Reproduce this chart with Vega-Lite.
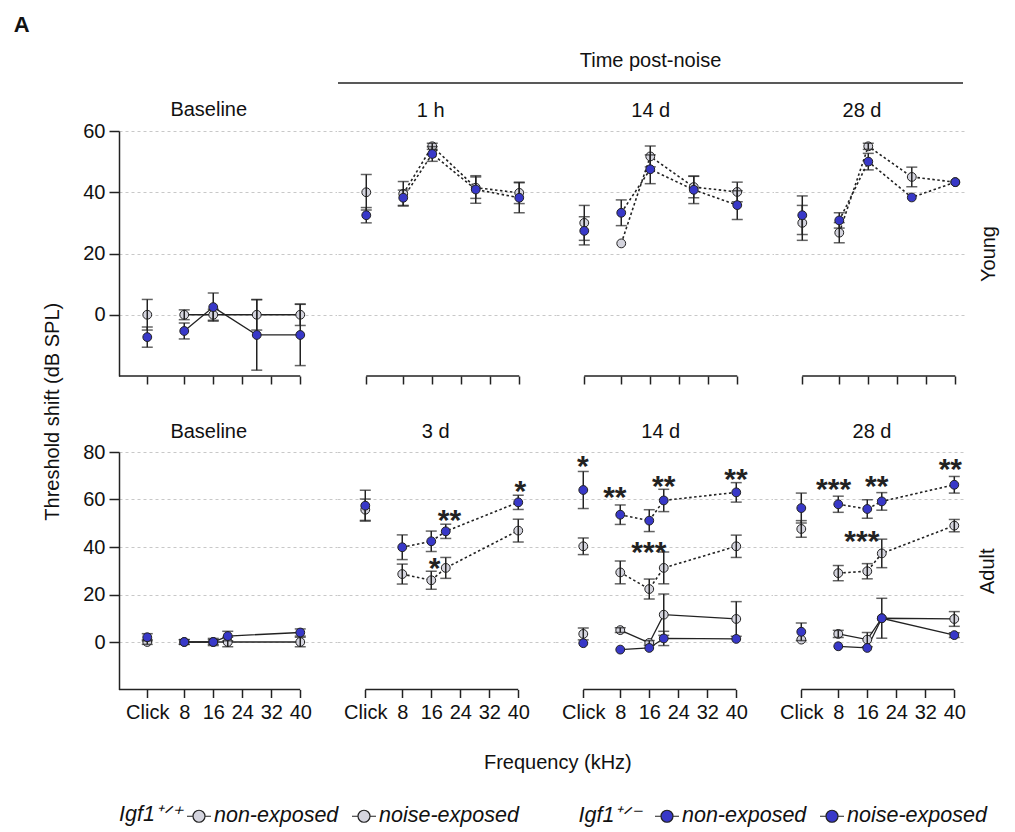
{
"$schema": "https://vega.github.io/schema/vega-lite/v6.json",
"padding": {"left": 13, "top": 14, "right": 5, "bottom": 5},
"title": {"text": "A", "anchor": "start", "fontSize": 22, "fontWeight": "bold", "dx": -29, "offset": 14},
"datasets": {
"d": [
{"age":"Young","time":"Baseline","freq":"Click","group":"wt-non","value":0,"err":5},
{"age":"Young","time":"Baseline","freq":"Click","group":"het-non","value":-7.3,"err":3.3},
{"age":"Young","time":"Baseline","freq":8,"group":"wt-non","value":0,"err":1.6},
{"age":"Young","time":"Baseline","freq":8,"group":"het-non","value":-5.3,"err":2.6},
{"age":"Young","time":"Baseline","freq":16,"group":"wt-non","value":0,"err":1.8},
{"age":"Young","time":"Baseline","freq":16,"group":"het-non","value":2.5,"err":4.6},
{"age":"Young","time":"Baseline","freq":28,"group":"wt-non","value":0,"err":5},
{"age":"Young","time":"Baseline","freq":28,"group":"het-non","value":-6.6,"err":11.5},
{"age":"Young","time":"Baseline","freq":40,"group":"wt-non","value":0,"err":3.5},
{"age":"Young","time":"Baseline","freq":40,"group":"het-non","value":-6.6,"err":10},
{"age":"Young","time":"1 h","freq":"Click","group":"wt-noise","value":40,"err":5.8},
{"age":"Young","time":"1 h","freq":"Click","group":"het-noise","value":32.5,"err":2.5},
{"age":"Young","time":"1 h","freq":8,"group":"wt-noise","value":39.5,"err":4},
{"age":"Young","time":"1 h","freq":8,"group":"het-noise","value":38.2,"err":2.5},
{"age":"Young","time":"1 h","freq":16,"group":"wt-noise","value":55,"err":1},
{"age":"Young","time":"1 h","freq":16,"group":"het-noise","value":52.5,"err":2.4},
{"age":"Young","time":"1 h","freq":28,"group":"wt-noise","value":41.5,"err":3.5},
{"age":"Young","time":"1 h","freq":28,"group":"het-noise","value":40.9,"err":4.5},
{"age":"Young","time":"1 h","freq":40,"group":"wt-noise","value":39.8,"err":3.5},
{"age":"Young","time":"1 h","freq":40,"group":"het-noise","value":38.2,"err":4.9},
{"age":"Young","time":"14 d","freq":"Click","group":"wt-noise","value":30,"err":5.7},
{"age":"Young","time":"14 d","freq":"Click","group":"het-noise","value":27.4,"err":4.6},
{"age":"Young","time":"14 d","freq":8,"group":"wt-noise","value":23.3,"err":0},
{"age":"Young","time":"14 d","freq":8,"group":"het-noise","value":33.3,"err":4.2},
{"age":"Young","time":"14 d","freq":16,"group":"wt-noise","value":51.7,"err":3.4},
{"age":"Young","time":"14 d","freq":16,"group":"het-noise","value":47.5,"err":4.7},
{"age":"Young","time":"14 d","freq":28,"group":"wt-noise","value":41.7,"err":3.5},
{"age":"Young","time":"14 d","freq":28,"group":"het-noise","value":40.8,"err":4.5},
{"age":"Young","time":"14 d","freq":40,"group":"wt-noise","value":40.1,"err":3.2},
{"age":"Young","time":"14 d","freq":40,"group":"het-noise","value":35.8,"err":4.7},
{"age":"Young","time":"28 d","freq":"Click","group":"wt-noise","value":30,"err":5.7},
{"age":"Young","time":"28 d","freq":"Click","group":"het-noise","value":32.5,"err":6.3},
{"age":"Young","time":"28 d","freq":8,"group":"wt-noise","value":26.8,"err":3.3},
{"age":"Young","time":"28 d","freq":8,"group":"het-noise","value":30.8,"err":2.5},
{"age":"Young","time":"28 d","freq":16,"group":"wt-noise","value":55,"err":1},
{"age":"Young","time":"28 d","freq":16,"group":"het-noise","value":50,"err":2.7},
{"age":"Young","time":"28 d","freq":28,"group":"wt-noise","value":45,"err":3.2},
{"age":"Young","time":"28 d","freq":28,"group":"het-noise","value":38.3,"err":0},
{"age":"Young","time":"28 d","freq":40,"group":"wt-noise","value":43.3,"err":0},
{"age":"Young","time":"28 d","freq":40,"group":"het-noise","value":43.3,"err":0},
{"age":"Adult","time":"Baseline","freq":"Click","group":"wt-non","value":0,"err":1},
{"age":"Adult","time":"Baseline","freq":"Click","group":"het-non","value":2,"err":1.5},
{"age":"Adult","time":"Baseline","freq":8,"group":"wt-non","value":0,"err":1},
{"age":"Adult","time":"Baseline","freq":8,"group":"het-non","value":0,"err":1},
{"age":"Adult","time":"Baseline","freq":16,"group":"wt-non","value":0,"err":1},
{"age":"Adult","time":"Baseline","freq":16,"group":"het-non","value":0,"err":1.5},
{"age":"Adult","time":"Baseline","freq":20,"group":"wt-non","value":0,"err":2},
{"age":"Adult","time":"Baseline","freq":20,"group":"het-non","value":2.5,"err":2},
{"age":"Adult","time":"Baseline","freq":40,"group":"wt-non","value":0,"err":2},
{"age":"Adult","time":"Baseline","freq":40,"group":"het-non","value":4,"err":1.5},
{"age":"Adult","time":"3 d","freq":"Click","group":"wt-noise","value":55.7,"err":4.5},
{"age":"Adult","time":"3 d","freq":"Click","group":"het-noise","value":57.4,"err":6.5},
{"age":"Adult","time":"3 d","freq":8,"group":"wt-noise","value":28.6,"err":4.2},
{"age":"Adult","time":"3 d","freq":8,"group":"het-noise","value":39.9,"err":5.2},
{"age":"Adult","time":"3 d","freq":16,"group":"wt-noise","value":26,"err":3.8},
{"age":"Adult","time":"3 d","freq":16,"group":"het-noise","value":42.4,"err":4.3},
{"age":"Adult","time":"3 d","freq":20,"group":"wt-noise","value":31.2,"err":4.4},
{"age":"Adult","time":"3 d","freq":20,"group":"het-noise","value":46.6,"err":3},
{"age":"Adult","time":"3 d","freq":40,"group":"wt-noise","value":46.9,"err":4.8},
{"age":"Adult","time":"3 d","freq":40,"group":"het-noise","value":58.8,"err":3},
{"age":"Adult","time":"14 d","freq":"Click","group":"wt-noise","value":40.3,"err":3.5},
{"age":"Adult","time":"14 d","freq":"Click","group":"het-noise","value":64,"err":7.8},
{"age":"Adult","time":"14 d","freq":8,"group":"wt-noise","value":29.3,"err":4.8},
{"age":"Adult","time":"14 d","freq":8,"group":"het-noise","value":53.6,"err":4.1},
{"age":"Adult","time":"14 d","freq":16,"group":"wt-noise","value":22.3,"err":4.2},
{"age":"Adult","time":"14 d","freq":16,"group":"het-noise","value":51.1,"err":4.6},
{"age":"Adult","time":"14 d","freq":20,"group":"wt-noise","value":31.2,"err":6.7},
{"age":"Adult","time":"14 d","freq":20,"group":"het-noise","value":59.6,"err":4.7},
{"age":"Adult","time":"14 d","freq":40,"group":"wt-noise","value":40.3,"err":4.7},
{"age":"Adult","time":"14 d","freq":40,"group":"het-noise","value":63,"err":4.1},
{"age":"Adult","time":"14 d","freq":"Click","group":"wt-non","value":3.4,"err":2.5},
{"age":"Adult","time":"14 d","freq":"Click","group":"het-non","value":-0.5,"err":0},
{"age":"Adult","time":"14 d","freq":8,"group":"wt-non","value":5,"err":1},
{"age":"Adult","time":"14 d","freq":8,"group":"het-non","value":-3.2,"err":0},
{"age":"Adult","time":"14 d","freq":16,"group":"wt-non","value":-0.4,"err":1},
{"age":"Adult","time":"14 d","freq":16,"group":"het-non","value":-2.5,"err":0},
{"age":"Adult","time":"14 d","freq":20,"group":"wt-non","value":11.5,"err":8.7},
{"age":"Adult","time":"14 d","freq":20,"group":"het-non","value":1.5,"err":3},
{"age":"Adult","time":"14 d","freq":40,"group":"wt-non","value":9.7,"err":7.3},
{"age":"Adult","time":"14 d","freq":40,"group":"het-non","value":1.3,"err":0},
{"age":"Adult","time":"28 d","freq":"Click","group":"wt-noise","value":47.6,"err":3.5},
{"age":"Adult","time":"28 d","freq":"Click","group":"het-noise","value":56.4,"err":6.3},
{"age":"Adult","time":"28 d","freq":8,"group":"wt-noise","value":29,"err":3.2},
{"age":"Adult","time":"28 d","freq":8,"group":"het-noise","value":58,"err":3.4},
{"age":"Adult","time":"28 d","freq":16,"group":"wt-noise","value":29.8,"err":3.2},
{"age":"Adult","time":"28 d","freq":16,"group":"het-noise","value":56,"err":3.9},
{"age":"Adult","time":"28 d","freq":20,"group":"wt-noise","value":37.3,"err":6},
{"age":"Adult","time":"28 d","freq":20,"group":"het-noise","value":59.2,"err":3.7},
{"age":"Adult","time":"28 d","freq":40,"group":"wt-noise","value":49,"err":2.6},
{"age":"Adult","time":"28 d","freq":40,"group":"het-noise","value":66.2,"err":3.5},
{"age":"Adult","time":"28 d","freq":"Click","group":"wt-non","value":1,"err":0},
{"age":"Adult","time":"28 d","freq":"Click","group":"het-non","value":4.3,"err":3.7},
{"age":"Adult","time":"28 d","freq":8,"group":"wt-non","value":3.4,"err":1.5},
{"age":"Adult","time":"28 d","freq":8,"group":"het-non","value":-1.8,"err":0},
{"age":"Adult","time":"28 d","freq":16,"group":"wt-non","value":1,"err":3},
{"age":"Adult","time":"28 d","freq":16,"group":"het-non","value":-2.5,"err":0},
{"age":"Adult","time":"28 d","freq":20,"group":"wt-non","value":10,"err":0},
{"age":"Adult","time":"28 d","freq":20,"group":"het-non","value":10,"err":8.4},
{"age":"Adult","time":"28 d","freq":40,"group":"wt-non","value":9.7,"err":3.1},
{"age":"Adult","time":"28 d","freq":40,"group":"het-non","value":2.9,"err":1}
],
"stars": [
{"age":"Adult","time":"3 d","kHz":16.9,"value":33.3,"label":"*"},
{"age":"Adult","time":"3 d","kHz":21,"value":53.6,"label":"**"},
{"age":"Adult","time":"3 d","kHz":40.6,"value":65.8,"label":"*"},
{"age":"Adult","time":"14 d","kHz":-2.3,"value":76.3,"label":"*"},
{"age":"Adult","time":"14 d","kHz":6.5,"value":63,"label":"**"},
{"age":"Adult","time":"14 d","kHz":15.9,"value":40,"label":"***"},
{"age":"Adult","time":"14 d","kHz":20,"value":68,"label":"**"},
{"age":"Adult","time":"14 d","kHz":39.9,"value":70.7,"label":"**"},
{"age":"Adult","time":"28 d","kHz":6.7,"value":66.5,"label":"***"},
{"age":"Adult","time":"28 d","kHz":18.6,"value":68,"label":"**"},
{"age":"Adult","time":"28 d","kHz":14.5,"value":44.8,"label":"***"},
{"age":"Adult","time":"28 d","kHz":38.9,"value":75,"label":"**"}
]
},
"vconcat": [
{
"title": {"text": "Threshold shift (dB SPL)", "orient": "left", "anchor": "middle", "offset": 20},
"spacing": 36,
"vconcat": [
{
"spacing": 0,
"hconcat": [
{
"spacing": 17,
"vconcat": [
{"width": 217.5, "height": 32, "data": {"values": [{}]}, "mark": {"type": "rule", "opacity": 0},
 "encoding": {"x": {"datum": 0, "scale": {"domain": [0, 1]}, "axis": null}, "y": {"datum": 0, "scale": {"domain": [0, 1]}, "axis": null}, "y2": {"datum": 1}}},
{
"width": 217.5, "height": 245,
"title": {"text": "Baseline", "dx": -19, "dy": 9},
"data": {"name": "d"},
"transform": [{"filter": "datum.age === 'Young' && datum.time === 'Baseline'"}, {"calculate": "datum.freq === 'Click' ? -2.2 : datum.freq", "as": "kHz"}],
"encoding": {
 "x": {"field": "kHz", "type": "quantitative", "scale": {"domain": [-10, 50], "nice": false, "zero": false}, "axis": {"values": [-2.2, 8, 16, 24, 32, 40], "domain": false, "grid": false, "labels": false, "tickSize": 8, "title": null}},
 "y": {"field": "value", "type": "quantitative", "scale": {"domain": [-20, 60], "nice": false, "zero": false}, "axis": {"values": [0, 20, 40, 60], "grid": true, "tickSize": 10, "labelPadding": 4, "title": null}}
},
"layer": [
 {"transform": [{"filter": "datum.freq === 40 && datum.group === 'wt-non'"}], "mark": {"type": "rule", "color": "#222", "strokeWidth": 1.5}, "encoding": {"x": {"datum": -10}, "x2": {"datum": 40}, "y": {"datum": -20}}},
 {"transform": [{"filter": "datum.freq !== 'Click' && indexof(datum.group, 'non') >= 0"}], "mark": {"type": "line", "color": "#222", "strokeWidth": 1.3}, "encoding": {"detail": {"field": "group"}}},
 {"transform": [{"filter": "datum.freq !== 'Click' && indexof(datum.group, 'noise') >= 0"}], "mark": {"type": "line", "color": "#222", "strokeWidth": 1.6, "strokeDash": [2.5, 2.5]}, "encoding": {"detail": {"field": "group"}}},
 {"transform": [{"filter": "indexof(datum.group, 'wt') === 0"}], "mark": {"type": "point", "shape": "circle", "filled": true, "size": 78, "opacity": 1, "stroke": "#222", "strokeWidth": 1},
  "encoding": {"fill": {"field": "group", "type": "nominal", "scale": {"domain": ["wt-non", "wt-noise", "het-non", "het-noise"], "range": ["#d4d4de", "#d4d4de", "#3838c8", "#3838c8"]},
   "legend": {"title": "Igf1⁺ᐟ⁺", "orient": "bottom", "direction": "horizontal", "titleOrient": "left", "titleFontSize": 21.5, "titleFontStyle": "italic", "titleFontWeight": "normal", "titleFont": "Liberation Sans", "titleColor": "#111", "titlePadding": 4,
    "labelFontSize": 21.5, "labelFontStyle": "italic", "labelFont": "Liberation Sans", "labelColor": "#111", "labelLimit": 600, "labelOffset": 2, "columnPadding": 10, "offset": 30,
    "labelExpr": "datum.value === 'wt-noise' ? 'noise-exposed\u00a0\u00a0\u00a0\u00a0\u00a0\u00a0\u00a0\u00a0\u00a0\u00a0Igf1⁺ᐟ⁻' : (indexof(datum.value, 'noise') >= 0 ? 'noise-exposed' : 'non-exposed')",
    "symbolType": "M-1,0L-0.5,0M0.5,0L1,0M-0.5,0A0.5,0.5,0,1,1,0.5,0A0.5,0.5,0,1,1,-0.5,0Z", "symbolSize": 576, "symbolStrokeColor": "#222", "symbolStrokeWidth": 1.2,
    "encode": {"symbols": {"update": {"shape": {"signal": "indexof(datum.value, 'noise') >= 0 ? 'M-1,0L-0.86,0M-0.74,0L-0.6,0M0.6,0L0.74,0M0.86,0L1,0M-0.5,0A0.5,0.5,0,1,1,0.5,0A0.5,0.5,0,1,1,-0.5,0Z' : 'M-1,0L-0.5,0M0.5,0L1,0M-0.5,0A0.5,0.5,0,1,1,0.5,0A0.5,0.5,0,1,1,-0.5,0Z'"}, "stroke": {"value": "#222"}, "strokeWidth": {"value": 1.2}, "opacity": {"value": 1}}}}}}}},
 {"transform": [{"filter": "datum.err > 0"}], "mark": {"type": "errorbar", "color": "#222", "thickness": 1.5, "ticks": {"size": 11}}, "encoding": {"yError": {"field": "err"}}},
 {"transform": [{"filter": "indexof(datum.group, 'het') === 0"}], "mark": {"type": "point", "shape": "circle", "filled": true, "size": 78, "opacity": 1, "stroke": "#222", "strokeWidth": 1}, "encoding": {"fill": {"field": "group", "type": "nominal", "scale": {"domain": ["wt-non", "wt-noise", "het-non", "het-noise"], "range": ["#d4d4de", "#d4d4de", "#3838c8", "#3838c8"]}}}}
]
}
]
},
{
"spacing": 17,
"vconcat": [
{"width": 625, "height": 32, "data": {"values": [{}]},
 "layer": [
  {"mark": {"type": "rule", "color": "#222", "strokeWidth": 1.5}, "encoding": {"x": {"datum": 0, "scale": {"domain": [0, 1]}, "axis": null}, "x2": {"datum": 1}, "y": {"datum": 0, "scale": {"domain": [0, 1]}, "axis": null}}},
  {"mark": {"type": "text", "fontSize": 20, "font": "Liberation Sans", "baseline": "top", "color": "#111"}, "encoding": {"x": {"datum": 0.5}, "y": {"datum": 1}, "text": {"value": "Time post-noise"}}}
 ]},
{
"spacing": 0, "bounds": "flush",
"hconcat": [
{
"width": 217.5, "height": 245,
"title": {"text": "1 h", "dx": -16},
"data": {"name": "d"},
"transform": [{"filter": "datum.age === 'Young' && datum.time === '1 h'"}, {"calculate": "datum.freq === 'Click' ? -2.2 : datum.freq", "as": "kHz"}],
"encoding": {
 "x": {"field": "kHz", "type": "quantitative", "scale": {"domain": [-10, 50], "nice": false, "zero": false}, "axis": {"values": [-2.2, 8, 16, 24, 32, 40], "domain": false, "grid": false, "labels": false, "tickSize": 8, "title": null}},
 "y": {"field": "value", "type": "quantitative", "scale": {"domain": [-20, 60], "nice": false, "zero": false}, "axis": {"values": [0, 20, 40, 60], "grid": true, "domain": false, "ticks": false, "labels": false, "title": null}}
},
"layer": [
 {"transform": [{"filter": "datum.freq === 40 && indexof(datum.group, 'wt') === 0"}], "mark": {"type": "rule", "color": "#222", "strokeWidth": 1.5}, "encoding": {"x": {"datum": -2.2}, "x2": {"datum": 40}, "y": {"datum": -20}}},
 {"transform": [{"filter": "datum.freq !== 'Click' && indexof(datum.group, 'non') >= 0"}], "mark": {"type": "line", "color": "#222", "strokeWidth": 1.3}, "encoding": {"detail": {"field": "group"}}},
 {"transform": [{"filter": "datum.freq !== 'Click' && indexof(datum.group, 'noise') >= 0"}], "mark": {"type": "line", "color": "#222", "strokeWidth": 1.6, "strokeDash": [2.5, 2.5]}, "encoding": {"detail": {"field": "group"}}},
 {"transform": [{"filter": "indexof(datum.group, 'wt') === 0"}], "mark": {"type": "point", "shape": "circle", "filled": true, "size": 78, "opacity": 1, "stroke": "#222", "strokeWidth": 1}, "encoding": {"fill": {"field": "group", "type": "nominal", "scale": {"domain": ["wt-non", "wt-noise", "het-non", "het-noise"], "range": ["#d4d4de", "#d4d4de", "#3838c8", "#3838c8"]}}}},
 {"transform": [{"filter": "datum.err > 0"}], "mark": {"type": "errorbar", "color": "#222", "thickness": 1.5, "ticks": {"size": 11}}, "encoding": {"yError": {"field": "err"}}},
 {"transform": [{"filter": "indexof(datum.group, 'het') === 0"}], "mark": {"type": "point", "shape": "circle", "filled": true, "size": 78, "opacity": 1, "stroke": "#222", "strokeWidth": 1}, "encoding": {"fill": {"field": "group", "type": "nominal", "scale": {"domain": ["wt-non", "wt-noise", "het-non", "het-noise"], "range": ["#d4d4de", "#d4d4de", "#3838c8", "#3838c8"]}}}}
]
},
{
"width": 217.5, "height": 245,
"title": {"text": "14 d", "dx": -14},
"data": {"name": "d"},
"transform": [{"filter": "datum.age === 'Young' && datum.time === '14 d'"}, {"calculate": "datum.freq === 'Click' ? -2.2 : datum.freq", "as": "kHz"}],
"encoding": {
 "x": {"field": "kHz", "type": "quantitative", "scale": {"domain": [-10, 50], "nice": false, "zero": false}, "axis": {"values": [-2.2, 8, 16, 24, 32, 40], "domain": false, "grid": false, "labels": false, "tickSize": 8, "title": null}},
 "y": {"field": "value", "type": "quantitative", "scale": {"domain": [-20, 60], "nice": false, "zero": false}, "axis": {"values": [0, 20, 40, 60], "grid": true, "domain": false, "ticks": false, "labels": false, "title": null}}
},
"layer": [
 {"transform": [{"filter": "datum.freq === 40 && indexof(datum.group, 'wt') === 0"}], "mark": {"type": "rule", "color": "#222", "strokeWidth": 1.5}, "encoding": {"x": {"datum": -2.2}, "x2": {"datum": 40}, "y": {"datum": -20}}},
 {"transform": [{"filter": "datum.freq !== 'Click' && indexof(datum.group, 'non') >= 0"}], "mark": {"type": "line", "color": "#222", "strokeWidth": 1.3}, "encoding": {"detail": {"field": "group"}}},
 {"transform": [{"filter": "datum.freq !== 'Click' && indexof(datum.group, 'noise') >= 0"}], "mark": {"type": "line", "color": "#222", "strokeWidth": 1.6, "strokeDash": [2.5, 2.5]}, "encoding": {"detail": {"field": "group"}}},
 {"transform": [{"filter": "indexof(datum.group, 'wt') === 0"}], "mark": {"type": "point", "shape": "circle", "filled": true, "size": 78, "opacity": 1, "stroke": "#222", "strokeWidth": 1}, "encoding": {"fill": {"field": "group", "type": "nominal", "scale": {"domain": ["wt-non", "wt-noise", "het-non", "het-noise"], "range": ["#d4d4de", "#d4d4de", "#3838c8", "#3838c8"]}}}},
 {"transform": [{"filter": "datum.err > 0"}], "mark": {"type": "errorbar", "color": "#222", "thickness": 1.5, "ticks": {"size": 11}}, "encoding": {"yError": {"field": "err"}}},
 {"transform": [{"filter": "indexof(datum.group, 'het') === 0"}], "mark": {"type": "point", "shape": "circle", "filled": true, "size": 78, "opacity": 1, "stroke": "#222", "strokeWidth": 1}, "encoding": {"fill": {"field": "group", "type": "nominal", "scale": {"domain": ["wt-non", "wt-noise", "het-non", "het-noise"], "range": ["#d4d4de", "#d4d4de", "#3838c8", "#3838c8"]}}}}
]
},
{
"width": 190, "height": 245,
"title": {"text": "28 d", "dx": -7},
"data": {"name": "d"},
"transform": [{"filter": "datum.age === 'Young' && datum.time === '28 d'"}, {"calculate": "datum.freq === 'Click' ? -2.2 : datum.freq", "as": "kHz"}],
"encoding": {
 "x": {"field": "kHz", "type": "quantitative", "scale": {"domain": [-10, 42.4], "nice": false, "zero": false}, "axis": {"values": [-2.2, 8, 16, 24, 32, 40], "domain": false, "grid": false, "labels": false, "tickSize": 8, "title": null}},
 "y": {"field": "value", "type": "quantitative", "scale": {"domain": [-20, 60], "nice": false, "zero": false}, "axis": {"values": [0, 20, 40, 60], "orient": "right", "grid": true, "domain": false, "ticks": false, "labels": false, "title": "Young", "titleAngle": 270, "titleFontSize": 20, "titleFontWeight": "normal", "titleFont": "Liberation Sans", "titleColor": "#111", "titlePadding": 34}}
},
"layer": [
 {"transform": [{"filter": "datum.freq === 40 && indexof(datum.group, 'wt') === 0"}], "mark": {"type": "rule", "color": "#222", "strokeWidth": 1.5}, "encoding": {"x": {"datum": -2.2}, "x2": {"datum": 40}, "y": {"datum": -20}}},
 {"transform": [{"filter": "datum.freq !== 'Click' && indexof(datum.group, 'non') >= 0"}], "mark": {"type": "line", "color": "#222", "strokeWidth": 1.3}, "encoding": {"detail": {"field": "group"}}},
 {"transform": [{"filter": "datum.freq !== 'Click' && indexof(datum.group, 'noise') >= 0"}], "mark": {"type": "line", "color": "#222", "strokeWidth": 1.6, "strokeDash": [2.5, 2.5]}, "encoding": {"detail": {"field": "group"}}},
 {"transform": [{"filter": "indexof(datum.group, 'wt') === 0"}], "mark": {"type": "point", "shape": "circle", "filled": true, "size": 78, "opacity": 1, "stroke": "#222", "strokeWidth": 1}, "encoding": {"fill": {"field": "group", "type": "nominal", "scale": {"domain": ["wt-non", "wt-noise", "het-non", "het-noise"], "range": ["#d4d4de", "#d4d4de", "#3838c8", "#3838c8"]}}}},
 {"transform": [{"filter": "datum.err > 0"}], "mark": {"type": "errorbar", "color": "#222", "thickness": 1.5, "ticks": {"size": 11}}, "encoding": {"yError": {"field": "err"}}},
 {"transform": [{"filter": "indexof(datum.group, 'het') === 0"}], "mark": {"type": "point", "shape": "circle", "filled": true, "size": 78, "opacity": 1, "stroke": "#222", "strokeWidth": 1}, "encoding": {"fill": {"field": "group", "type": "nominal", "scale": {"domain": ["wt-non", "wt-noise", "het-non", "het-noise"], "range": ["#d4d4de", "#d4d4de", "#3838c8", "#3838c8"]}}}}
]
}
]
}
]
}
]
},
{
"spacing": 0, "bounds": "flush",
"title": {"text": "Frequency (kHz)", "orient": "bottom", "anchor": "middle", "offset": 30, "dx": 18},
"hconcat": [
{
"width": 217.5, "height": 237.5,
"title": {"text": "Baseline", "dx": -19, "dy": 10},
"data": {"name": "d"},
"transform": [{"filter": "datum.age === 'Adult' && datum.time === 'Baseline'"}, {"calculate": "datum.freq === 'Click' ? -2.2 : datum.freq", "as": "kHz"}],
"encoding": {
 "x": {"field": "kHz", "type": "quantitative", "scale": {"domain": [-10, 50], "nice": false, "zero": false}, "axis": {"values": [-2.2, 8, 16, 24, 32, 40], "domain": false, "grid": false, "tickSize": 8, "labelPadding": 5, "labelExpr": "datum.value < 0 ? 'Click' : datum.label", "title": null}},
 "y": {"field": "value", "type": "quantitative", "scale": {"domain": [-20, 80], "nice": false, "zero": false}, "axis": {"values": [0, 20, 40, 60, 80], "grid": true, "tickSize": 10, "labelPadding": 4, "title": null}}
},
"layer": [
 {"transform": [{"filter": "datum.freq === 40 && datum.group === 'wt-non'"}], "mark": {"type": "rule", "color": "#222", "strokeWidth": 1.5}, "encoding": {"x": {"datum": -10}, "x2": {"datum": 40}, "y": {"datum": -20}}},
 {"transform": [{"filter": "datum.freq !== 'Click' && indexof(datum.group, 'non') >= 0"}], "mark": {"type": "line", "color": "#222", "strokeWidth": 1.3}, "encoding": {"detail": {"field": "group"}}},
 {"transform": [{"filter": "datum.freq !== 'Click' && indexof(datum.group, 'noise') >= 0"}], "mark": {"type": "line", "color": "#222", "strokeWidth": 1.6, "strokeDash": [2.5, 2.5]}, "encoding": {"detail": {"field": "group"}}},
 {"transform": [{"filter": "indexof(datum.group, 'wt') === 0"}], "mark": {"type": "point", "shape": "circle", "filled": true, "size": 78, "opacity": 1, "stroke": "#222", "strokeWidth": 1}, "encoding": {"fill": {"field": "group", "type": "nominal", "scale": {"domain": ["wt-non", "wt-noise", "het-non", "het-noise"], "range": ["#d4d4de", "#d4d4de", "#3838c8", "#3838c8"]}}}},
 {"transform": [{"filter": "datum.err > 0"}], "mark": {"type": "errorbar", "color": "#222", "thickness": 1.5, "ticks": {"size": 11}}, "encoding": {"yError": {"field": "err"}}},
 {"transform": [{"filter": "indexof(datum.group, 'het') === 0"}], "mark": {"type": "point", "shape": "circle", "filled": true, "size": 78, "opacity": 1, "stroke": "#222", "strokeWidth": 1}, "encoding": {"fill": {"field": "group", "type": "nominal", "scale": {"domain": ["wt-non", "wt-noise", "het-non", "het-noise"], "range": ["#d4d4de", "#d4d4de", "#3838c8", "#3838c8"]}}}}
]
},
{
"width": 217.5, "height": 237.5,
"title": {"text": "3 d", "dx": -10},
"data": {"name": "d"},
"transform": [{"filter": "datum.age === 'Adult' && datum.time === '3 d'"}, {"calculate": "datum.freq === 'Click' ? -2.2 : datum.freq", "as": "kHz"}],
"encoding": {
 "x": {"field": "kHz", "type": "quantitative", "scale": {"domain": [-10, 50], "nice": false, "zero": false}, "axis": {"values": [-2.2, 8, 16, 24, 32, 40], "domain": false, "grid": false, "tickSize": 8, "labelPadding": 5, "labelExpr": "datum.value < 0 ? 'Click' : datum.label", "title": null}},
 "y": {"field": "value", "type": "quantitative", "scale": {"domain": [-20, 80], "nice": false, "zero": false}, "axis": {"values": [0, 20, 40, 60, 80], "grid": true, "domain": false, "ticks": false, "labels": false, "title": null}}
},
"layer": [
 {"transform": [{"filter": "datum.freq === 40 && indexof(datum.group, 'wt') === 0"}], "mark": {"type": "rule", "color": "#222", "strokeWidth": 1.5}, "encoding": {"x": {"datum": -2.2}, "x2": {"datum": 40}, "y": {"datum": -20}}},
 {"transform": [{"filter": "datum.freq !== 'Click' && indexof(datum.group, 'non') >= 0"}], "mark": {"type": "line", "color": "#222", "strokeWidth": 1.3}, "encoding": {"detail": {"field": "group"}}},
 {"transform": [{"filter": "datum.freq !== 'Click' && indexof(datum.group, 'noise') >= 0"}], "mark": {"type": "line", "color": "#222", "strokeWidth": 1.6, "strokeDash": [2.5, 2.5]}, "encoding": {"detail": {"field": "group"}}},
 {"transform": [{"filter": "indexof(datum.group, 'wt') === 0"}], "mark": {"type": "point", "shape": "circle", "filled": true, "size": 78, "opacity": 1, "stroke": "#222", "strokeWidth": 1}, "encoding": {"fill": {"field": "group", "type": "nominal", "scale": {"domain": ["wt-non", "wt-noise", "het-non", "het-noise"], "range": ["#d4d4de", "#d4d4de", "#3838c8", "#3838c8"]}}}},
 {"transform": [{"filter": "datum.err > 0"}], "mark": {"type": "errorbar", "color": "#222", "thickness": 1.5, "ticks": {"size": 11}}, "encoding": {"yError": {"field": "err"}}},
 {"transform": [{"filter": "indexof(datum.group, 'het') === 0"}], "mark": {"type": "point", "shape": "circle", "filled": true, "size": 78, "opacity": 1, "stroke": "#222", "strokeWidth": 1}, "encoding": {"fill": {"field": "group", "type": "nominal", "scale": {"domain": ["wt-non", "wt-noise", "het-non", "het-noise"], "range": ["#d4d4de", "#d4d4de", "#3838c8", "#3838c8"]}}}},
 {"data": {"name": "stars"}, "transform": [{"filter": "datum.age === 'Adult' && datum.time === '3 d'"}], "mark": {"type": "text", "font": "Liberation Sans", "fontSize": 30, "fontWeight": "bold", "baseline": "alphabetic", "dy": 15, "color": "#222"}, "encoding": {"text": {"field": "label"}}}
]
},
{
"width": 217.5, "height": 237.5,
"title": {"text": "14 d", "dx": -3},
"data": {"name": "d"},
"transform": [{"filter": "datum.age === 'Adult' && datum.time === '14 d'"}, {"calculate": "datum.freq === 'Click' ? -2.2 : datum.freq", "as": "kHz"}],
"encoding": {
 "x": {"field": "kHz", "type": "quantitative", "scale": {"domain": [-10, 50], "nice": false, "zero": false}, "axis": {"values": [-2.2, 8, 16, 24, 32, 40], "domain": false, "grid": false, "tickSize": 8, "labelPadding": 5, "labelExpr": "datum.value < 0 ? 'Click' : datum.label", "title": null}},
 "y": {"field": "value", "type": "quantitative", "scale": {"domain": [-20, 80], "nice": false, "zero": false}, "axis": {"values": [0, 20, 40, 60, 80], "grid": true, "domain": false, "ticks": false, "labels": false, "title": null}}
},
"layer": [
 {"transform": [{"filter": "datum.freq === 40 && datum.group === 'wt-non'"}], "mark": {"type": "rule", "color": "#222", "strokeWidth": 1.5}, "encoding": {"x": {"datum": -2.2}, "x2": {"datum": 40}, "y": {"datum": -20}}},
 {"transform": [{"filter": "datum.freq !== 'Click' && indexof(datum.group, 'non') >= 0"}], "mark": {"type": "line", "color": "#222", "strokeWidth": 1.3}, "encoding": {"detail": {"field": "group"}}},
 {"transform": [{"filter": "datum.freq !== 'Click' && indexof(datum.group, 'noise') >= 0"}], "mark": {"type": "line", "color": "#222", "strokeWidth": 1.6, "strokeDash": [2.5, 2.5]}, "encoding": {"detail": {"field": "group"}}},
 {"transform": [{"filter": "indexof(datum.group, 'wt') === 0"}], "mark": {"type": "point", "shape": "circle", "filled": true, "size": 78, "opacity": 1, "stroke": "#222", "strokeWidth": 1}, "encoding": {"fill": {"field": "group", "type": "nominal", "scale": {"domain": ["wt-non", "wt-noise", "het-non", "het-noise"], "range": ["#d4d4de", "#d4d4de", "#3838c8", "#3838c8"]}}}},
 {"transform": [{"filter": "datum.err > 0"}], "mark": {"type": "errorbar", "color": "#222", "thickness": 1.5, "ticks": {"size": 11}}, "encoding": {"yError": {"field": "err"}}},
 {"transform": [{"filter": "indexof(datum.group, 'het') === 0"}], "mark": {"type": "point", "shape": "circle", "filled": true, "size": 78, "opacity": 1, "stroke": "#222", "strokeWidth": 1}, "encoding": {"fill": {"field": "group", "type": "nominal", "scale": {"domain": ["wt-non", "wt-noise", "het-non", "het-noise"], "range": ["#d4d4de", "#d4d4de", "#3838c8", "#3838c8"]}}}},
 {"data": {"name": "stars"}, "transform": [{"filter": "datum.age === 'Adult' && datum.time === '14 d'"}], "mark": {"type": "text", "font": "Liberation Sans", "fontSize": 30, "fontWeight": "bold", "baseline": "alphabetic", "dy": 15, "color": "#222"}, "encoding": {"text": {"field": "label"}}}
]
},
{
"width": 190, "height": 237.5,
"title": {"text": "28 d", "dx": 4},
"data": {"name": "d"},
"transform": [{"filter": "datum.age === 'Adult' && datum.time === '28 d'"}, {"calculate": "datum.freq === 'Click' ? -2.2 : datum.freq", "as": "kHz"}],
"encoding": {
 "x": {"field": "kHz", "type": "quantitative", "scale": {"domain": [-10, 42.4], "nice": false, "zero": false}, "axis": {"values": [-2.2, 8, 16, 24, 32, 40], "domain": false, "grid": false, "tickSize": 8, "labelPadding": 5, "labelExpr": "datum.value < 0 ? 'Click' : datum.label", "title": null}},
 "y": {"field": "value", "type": "quantitative", "scale": {"domain": [-20, 80], "nice": false, "zero": false}, "axis": {"values": [0, 20, 40, 60, 80], "orient": "right", "grid": true, "domain": false, "ticks": false, "labels": false, "title": "Adult", "titleAngle": 270, "titleFontSize": 20, "titleFontWeight": "normal", "titleFont": "Liberation Sans", "titleColor": "#111", "titlePadding": 34}}
},
"layer": [
 {"transform": [{"filter": "datum.freq === 40 && datum.group === 'wt-non'"}], "mark": {"type": "rule", "color": "#222", "strokeWidth": 1.5}, "encoding": {"x": {"datum": -2.2}, "x2": {"datum": 40}, "y": {"datum": -20}}},
 {"transform": [{"filter": "datum.freq !== 'Click' && indexof(datum.group, 'non') >= 0"}], "mark": {"type": "line", "color": "#222", "strokeWidth": 1.3}, "encoding": {"detail": {"field": "group"}}},
 {"transform": [{"filter": "datum.freq !== 'Click' && indexof(datum.group, 'noise') >= 0"}], "mark": {"type": "line", "color": "#222", "strokeWidth": 1.6, "strokeDash": [2.5, 2.5]}, "encoding": {"detail": {"field": "group"}}},
 {"transform": [{"filter": "indexof(datum.group, 'wt') === 0"}], "mark": {"type": "point", "shape": "circle", "filled": true, "size": 78, "opacity": 1, "stroke": "#222", "strokeWidth": 1}, "encoding": {"fill": {"field": "group", "type": "nominal", "scale": {"domain": ["wt-non", "wt-noise", "het-non", "het-noise"], "range": ["#d4d4de", "#d4d4de", "#3838c8", "#3838c8"]}}}},
 {"transform": [{"filter": "datum.err > 0"}], "mark": {"type": "errorbar", "color": "#222", "thickness": 1.5, "ticks": {"size": 11}}, "encoding": {"yError": {"field": "err"}}},
 {"transform": [{"filter": "indexof(datum.group, 'het') === 0"}], "mark": {"type": "point", "shape": "circle", "filled": true, "size": 78, "opacity": 1, "stroke": "#222", "strokeWidth": 1}, "encoding": {"fill": {"field": "group", "type": "nominal", "scale": {"domain": ["wt-non", "wt-noise", "het-non", "het-noise"], "range": ["#d4d4de", "#d4d4de", "#3838c8", "#3838c8"]}}}},
 {"data": {"name": "stars"}, "transform": [{"filter": "datum.age === 'Adult' && datum.time === '28 d'"}], "mark": {"type": "text", "font": "Liberation Sans", "fontSize": 30, "fontWeight": "bold", "baseline": "alphabetic", "dy": 15, "color": "#222"}, "encoding": {"text": {"field": "label"}}}
]
}
]
}
]
}
],
"config": {
 "font": "Liberation Sans",
 "view": {"stroke": null},
 "title": {"font": "Liberation Sans", "fontSize": 20, "fontWeight": "normal", "color": "#111", "offset": 10},
 "axis": {"labelFont": "Liberation Sans", "labelFontSize": 20, "labelColor": "#111", "tickColor": "#222", "tickWidth": 1.5, "domainColor": "#222", "domainWidth": 1.5, "gridColor": "#c8c8c8", "gridDash": [3, 3], "gridWidth": 1, "labelFlush": false, "labelOverlap": false},
 "legend": {"layout": {"anchor": "start"}}
}
}
